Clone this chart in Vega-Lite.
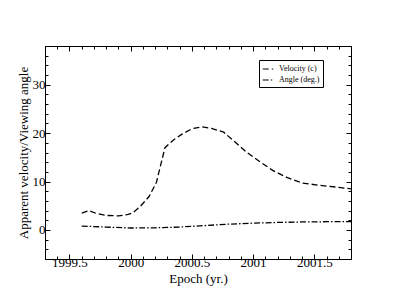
{
  "$schema": "https://vega.github.io/schema/vega-lite/v6.json",
  "width": 306,
  "height": 213,
  "autosize": "none",
  "padding": {"left": 45, "top": 46, "right": 44, "bottom": 46},
  "background": "white",
  "config": {
    "font": "Liberation Serif",
    "view": {"stroke": "black", "strokeWidth": 1},
    "axis": {"domainColor": "black", "tickColor": "black", "labelColor": "black", "titleColor": "black", "grid": false, "titleFontWeight": "normal"}
  },
  "data": {"values": [
    {"epoch": 1999.60, "value": 3.5, "series": "Velocity (c)"},
    {"epoch": 1999.66, "value": 4.0, "series": "Velocity (c)"},
    {"epoch": 1999.72, "value": 3.4, "series": "Velocity (c)"},
    {"epoch": 1999.80, "value": 3.0, "series": "Velocity (c)"},
    {"epoch": 1999.90, "value": 2.9, "series": "Velocity (c)"},
    {"epoch": 1999.98, "value": 3.2, "series": "Velocity (c)"},
    {"epoch": 2000.02, "value": 3.6, "series": "Velocity (c)"},
    {"epoch": 2000.08, "value": 4.9, "series": "Velocity (c)"},
    {"epoch": 2000.15, "value": 6.9, "series": "Velocity (c)"},
    {"epoch": 2000.21, "value": 9.8, "series": "Velocity (c)"},
    {"epoch": 2000.28, "value": 17.0, "series": "Velocity (c)"},
    {"epoch": 2000.35, "value": 18.6, "series": "Velocity (c)"},
    {"epoch": 2000.42, "value": 19.8, "series": "Velocity (c)"},
    {"epoch": 2000.50, "value": 20.9, "series": "Velocity (c)"},
    {"epoch": 2000.58, "value": 21.3, "series": "Velocity (c)"},
    {"epoch": 2000.66, "value": 21.0, "series": "Velocity (c)"},
    {"epoch": 2000.76, "value": 20.2, "series": "Velocity (c)"},
    {"epoch": 2000.85, "value": 18.2, "series": "Velocity (c)"},
    {"epoch": 2000.95, "value": 16.0, "series": "Velocity (c)"},
    {"epoch": 2001.05, "value": 14.2, "series": "Velocity (c)"},
    {"epoch": 2001.16, "value": 12.3, "series": "Velocity (c)"},
    {"epoch": 2001.28, "value": 10.8, "series": "Velocity (c)"},
    {"epoch": 2001.40, "value": 9.7, "series": "Velocity (c)"},
    {"epoch": 2001.55, "value": 9.2, "series": "Velocity (c)"},
    {"epoch": 2001.70, "value": 8.8, "series": "Velocity (c)"},
    {"epoch": 2001.80, "value": 8.5, "series": "Velocity (c)"},
    {"epoch": 1999.60, "value": 0.8, "series": "Angle (deg.)"},
    {"epoch": 1999.80, "value": 0.6, "series": "Angle (deg.)"},
    {"epoch": 2000.00, "value": 0.4, "series": "Angle (deg.)"},
    {"epoch": 2000.20, "value": 0.45, "series": "Angle (deg.)"},
    {"epoch": 2000.40, "value": 0.6, "series": "Angle (deg.)"},
    {"epoch": 2000.60, "value": 0.9, "series": "Angle (deg.)"},
    {"epoch": 2000.80, "value": 1.2, "series": "Angle (deg.)"},
    {"epoch": 2001.00, "value": 1.4, "series": "Angle (deg.)"},
    {"epoch": 2001.20, "value": 1.55, "series": "Angle (deg.)"},
    {"epoch": 2001.40, "value": 1.65, "series": "Angle (deg.)"},
    {"epoch": 2001.60, "value": 1.7, "series": "Angle (deg.)"},
    {"epoch": 2001.80, "value": 1.75, "series": "Angle (deg.)"}
  ]},
  "resolve": {"axis": {"x": "independent", "y": "independent"}},
  "layer": [
    {
      "mark": {"type": "line", "color": "black", "strokeWidth": 1.3},
      "encoding": {
        "x": {"field": "epoch", "type": "quantitative",
          "scale": {"domain": [1999.3, 2001.8], "nice": false, "zero": false},
          "axis": {"orient": "bottom", "title": "Epoch (yr.)", "format": ".1~f",
            "labelFont": "Liberation Serif", "labelFontSize": 13, "titleFont": "Liberation Serif", "titleFontSize": 13,
            "values": [1999.3,1999.4,1999.5,1999.6,1999.7,1999.8,1999.9,2000.0,2000.1,2000.2,2000.3,2000.4,2000.5,2000.6,2000.7,2000.8,2000.9,2001.0,2001.1,2001.2,2001.3,2001.4,2001.5,2001.6,2001.7,2001.8],
            "labelExpr": "abs(datum.value*2-round(datum.value*2))<0.01 ? datum.label : ''",
            "tickSize": {"condition": {"test": "abs(datum.value*2-round(datum.value*2))<0.01", "value": -5}, "value": -3},
            "labelPadding": 2, "titlePadding": 1, "labelFlush": false, "labelOverlap": false}},
        "y": {"field": "value", "type": "quantitative",
          "scale": {"domain": [-6, 38], "nice": false, "zero": false},
          "axis": {"orient": "left", "title": "Apparent velocity/Viewing angle",
            "labelFont": "Liberation Serif", "labelFontSize": 13, "titleFont": "Liberation Serif", "titleFontSize": 13,
            "values": [-6,-4,-2,0,2,4,6,8,10,12,14,16,18,20,22,24,26,28,30,32,34,36,38],
            "labelExpr": "abs(datum.value/10-round(datum.value/10))<0.01 ? datum.label : ''",
            "tickSize": {"condition": {"test": "abs(datum.value/10-round(datum.value/10))<0.01", "value": -5}, "value": -3},
            "labelPadding": 5, "titlePadding": 2, "labelFlush": false, "labelOverlap": false}},
        "strokeDash": {"field": "series", "type": "nominal",
          "scale": {"domain": ["Velocity (c)", "Angle (deg.)"], "range": [[6, 3], [6, 2, 1.5, 2]]},
          "legend": {"title": null, "orient": "none", "legendX": 214, "legendY": 14,
            "symbolType": "stroke", "symbolStrokeColor": "black", "symbolSize": 110, "symbolStrokeWidth": 1,
            "labelFont": "Liberation Serif", "labelFontSize": 8, "labelColor": "black", "strokeColor": "black", "padding": 3, "rowPadding": 1, "labelOffset": 5, "fillColor": "white"}}
      }
    },
    {
      "mark": {"type": "line", "opacity": 0},
      "encoding": {
        "x": {"field": "epoch", "type": "quantitative",
          "axis": {"orient": "top", "title": null, "labels": false,
            "values": [1999.3,1999.4,1999.5,1999.6,1999.7,1999.8,1999.9,2000.0,2000.1,2000.2,2000.3,2000.4,2000.5,2000.6,2000.7,2000.8,2000.9,2001.0,2001.1,2001.2,2001.3,2001.4,2001.5,2001.6,2001.7,2001.8],
            "tickSize": {"condition": {"test": "abs(datum.value*2-round(datum.value*2))<0.01", "value": -5}, "value": -3}}},
        "y": {"field": "value", "type": "quantitative",
          "axis": {"orient": "right", "title": null, "labels": false,
            "values": [-6,-4,-2,0,2,4,6,8,10,12,14,16,18,20,22,24,26,28,30,32,34,36,38],
            "tickSize": {"condition": {"test": "abs(datum.value/10-round(datum.value/10))<0.01", "value": -5}, "value": -3}}},
        "detail": {"field": "series", "type": "nominal"}
      }
    }
  ]
}
